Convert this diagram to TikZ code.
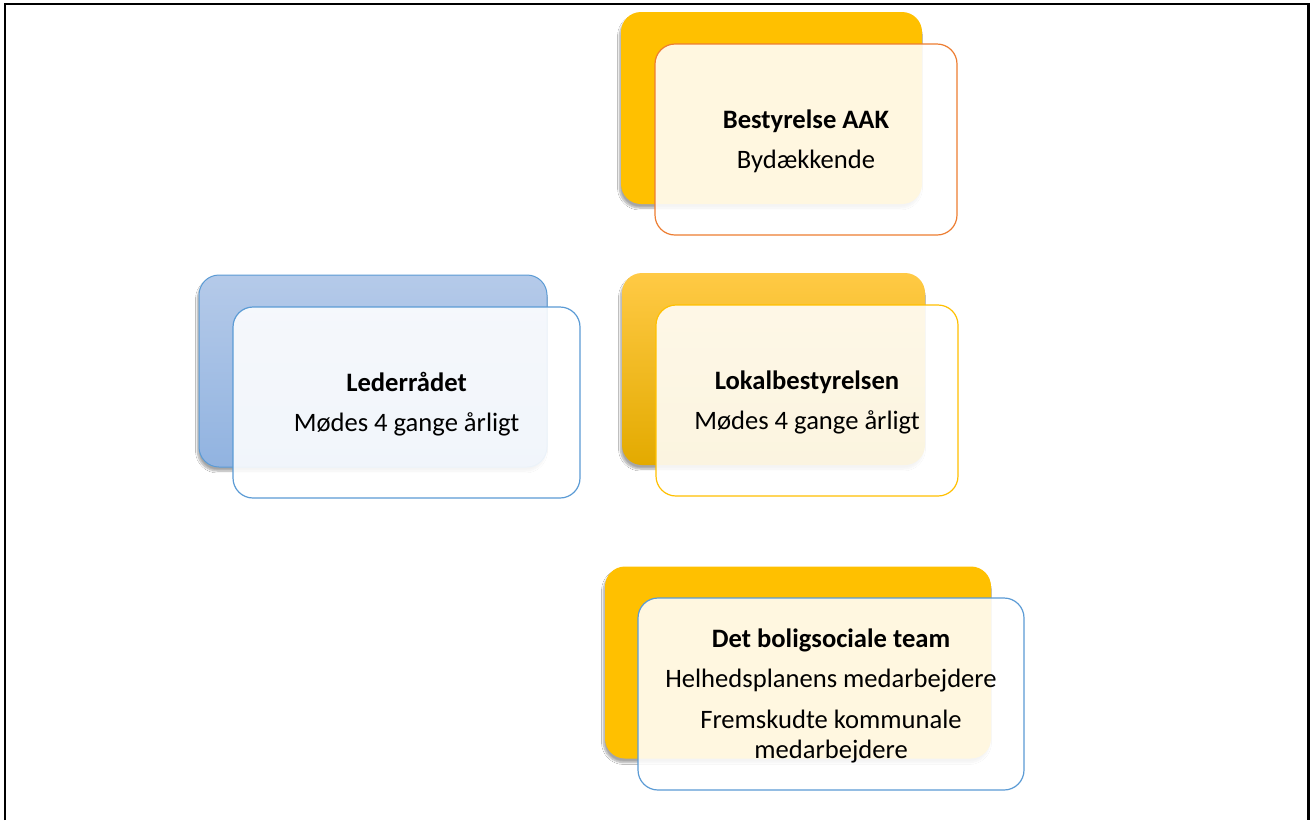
\documentclass[tikz,border=0pt]{standalone}
\usepackage{fontspec}
\setmainfont{Carlito}
\usetikzlibrary{shadows.blur}
\definecolor{gold}{HTML}{FFC000}
\definecolor{orangeline}{HTML}{ED7D31}
\definecolor{blueline}{HTML}{5B9BD5}
\definecolor{bluetop}{HTML}{B5CAE9}
\definecolor{bluebot}{HTML}{91B3E0}
\definecolor{goldtop}{HTML}{FFCA45}
\definecolor{goldbot}{HTML}{E3AA00}
\tikzset{
  backbox/.style={rectangle, rounded corners=20pt, inner sep=0pt, minimum height=192pt,
    blur shadow={shadow xshift=-1.5pt, shadow yshift=-4pt, shadow blur steps=8, shadow opacity=35}},
  frontbox/.style={rectangle, rounded corners=20pt, inner sep=0pt, minimum height=191pt,
    fill=white, fill opacity=0.88, line width=1.2pt},
  label/.style={align=center, font=\fontsize{26.6}{30}\selectfont, inner sep=0pt, yshift=-2pt},
}
\begin{document}
\begin{tikzpicture}[x=1pt,y=-1pt]
\useasboundingbox (0,0) rectangle (1311,820);
\fill[white] (0,0) rectangle (1311,820);
\coordinate (fbl) at (5,820);
\coordinate (ftl) at (5,4);
\coordinate (ftr) at (1308.5,4);
\coordinate (fbr) at (1308.5,820);
\draw[line width=2.6pt] (fbl) -- (ftl) -- (ftr) -- (fbr);

% Bestyrelse AAK
\node[backbox, fill=gold, minimum width=301pt] (b1) at (771.5,108) {};
\node[frontbox, draw=orangeline, minimum width=302pt] (f1) at (806,139.5) {};
\node[label] (t1) at (f1.center) {\textbf{Bestyrelse AAK}\\[10pt]Bydækkende};

% Lederraadet
\node[backbox, top color=bluetop, bottom color=bluebot, draw=blueline, line width=1pt, minimum width=348pt] (b2) at (373,371) {};
\node[frontbox, draw=blueline, minimum width=347pt] (f2) at (406.5,402.5) {};
\node[label] (t2) at (f2.center) {\textbf{Lederrådet}\\[10pt]Mødes 4 gange årligt};

% Lokalbestyrelsen
\node[backbox, top color=goldtop, middle color=gold, bottom color=goldbot, minimum width=303pt] (b3) at (773.5,369) {};
\node[frontbox, draw=gold, minimum width=302pt] (f3) at (807,400.5) {};
\node[label] (t3) at (f3.center) {\textbf{Lokalbestyrelsen}\\[10pt]Mødes 4 gange årligt};

% Det boligsociale team
\node[backbox, fill=gold, minimum width=386pt] (b4) at (798,662.5) {};
\node[frontbox, draw=blueline, minimum width=386pt, minimum height=192pt] (f4) at (831,694) {};
\node[label] (t4) at (f4.center) {\textbf{Det boligsociale team}\\[10pt]Helhedsplanens medarbejdere\\[11pt]Fremskudte kommunale\\medarbejdere};
\end{tikzpicture}
\end{document}
